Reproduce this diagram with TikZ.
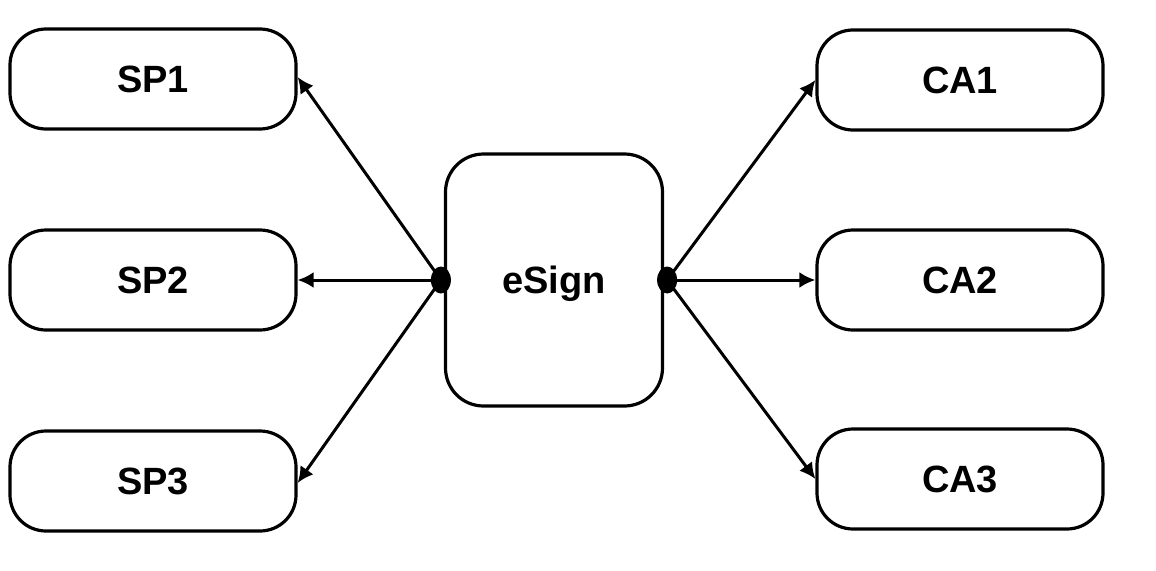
\documentclass[tikz,border=0pt]{standalone}
\usepackage{fontspec}
\setmainfont{Liberation Sans}
\usetikzlibrary{arrows.meta,shapes.geometric}
\begin{document}
\begin{tikzpicture}[x=1pt,y=-1pt,
  box/.style={draw=black,line width=3.2pt,rounded corners=36pt,minimum width=286pt,minimum height=100pt,inner sep=0pt,text depth=0pt,font=\fontsize{38}{44}\selectfont\bfseries},
  link/.style={line width=3pt,-{Latex[length=16pt,width=16pt]}},
  hub/.style={ellipse,fill=black,inner sep=0pt,minimum width=20pt,minimum height=27pt}
]
\useasboundingbox[fill=white] (0,0) rectangle (1156,570);
\node[box] (SP1) at (153,79) {SP1};
\node[box] (SP2) at (153,280) {SP2};
\node[box] (SP3) at (153,481) {SP3};
\node[box] (CA1) at (960,80) {CA1};
\node[box] (CA2) at (960,280) {CA2};
\node[box] (CA3) at (960,479) {CA3};
\node[box,minimum width=217pt,minimum height=252pt,rounded corners=38pt] (eS) at (554,280) {eSign};
\node[hub] (L) at ([xshift=-3pt]eS.west) {};
\node[hub] (R) at ([xshift=3pt]eS.east) {};
\draw[link] (L.center) -- ([yshift=2pt]SP1.east);
\draw[link] (L.center) -- (SP2.east);
\draw[link] (L.center) -- ([yshift=-2pt]SP3.east);
\draw[link] (R.center) -- (CA1.west);
\draw[link] (R.center) -- (CA2.west);
\draw[link] (R.center) -- (CA3.west);
\end{tikzpicture}
\end{document}
